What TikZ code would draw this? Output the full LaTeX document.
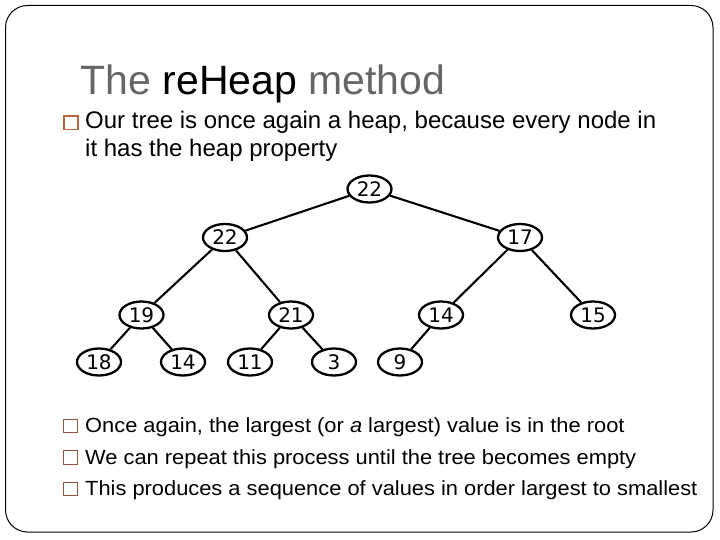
\documentclass[tikz,border=0pt]{standalone}
\usepackage{fontspec}
\setmainfont{Liberation Sans}
\newfontfamily\widefont[FakeStretch=1.066]{Liberation Sans}
\newfontfamily\nodefont{DejaVu Sans}
\usetikzlibrary{shapes.geometric}
\definecolor{titlegray}{RGB}{102,102,102}
\definecolor{bulletA}{RGB}{190,100,60}
\definecolor{bulletB}{RGB}{150,85,60}
\begin{document}
\begin{tikzpicture}[x=1pt,y=-1pt,
  hn/.style={draw, ellipse, line width=2.3pt, minimum width=44pt, minimum height=27pt, inner sep=0pt, font=\nodefont\fontsize{20}{20}\selectfont},
  edge/.style={line width=2.1pt},
  titletext/.style={anchor=base west, inner sep=0pt, font=\fontsize{41}{44}\selectfont},
  bodytext/.style={anchor=base west, inner sep=0pt, font=\fontsize{24}{28}\selectfont},
  smalltext/.style={anchor=base west, inner sep=0pt, font=\widefont\fontsize{20.5}{24}\selectfont},
  bigbullet/.style={draw=bulletA, line width=1.6pt},
  smallbullet/.style={draw=bulletB, line width=1pt}
]
\useasboundingbox (0,0) rectangle (720,540);
\draw[line width=1pt, rounded corners=22pt] (5.5,5.5) rectangle (713,532);

\node[titletext] (title) at (80.5,95) {\textcolor{titlegray}{The} reHeap \textcolor{titlegray}{method}};

\draw[bigbullet] (64,116) rectangle (78,129.5);
\node[bodytext] (l1) at (85,129) {Our tree is once again a heap, because every node in};
\node[bodytext] (l2) at (85,157) {it has the heap property};

\node[hn] (r) at (369.5,189) {22};
\node[hn] (a) at (225,237.5) {22};
\node[hn] (b) at (520,237.5) {17};
\node[hn] (c) at (141.5,315) {19};
\node[hn] (d) at (291,315) {21};
\node[hn] (e) at (441,315) {14};
\node[hn] (f) at (593,315) {15};
\node[hn] (g) at (99,362) {18};
\node[hn] (h) at (183,362) {14};
\node[hn] (i) at (250,362) {11};
\node[hn] (j) at (334,362) {3};
\node[hn] (k) at (400,362) {9};

\draw[edge] (r) -- (a);
\draw[edge] (r) -- (b);
\draw[edge] (a) -- (c);
\draw[edge] (a) -- (d);
\draw[edge] (b) -- (e);
\draw[edge] (b) -- (f);
\draw[edge] (c) -- (g);
\draw[edge] (c) -- (h);
\draw[edge] (d) -- (i);
\draw[edge] (d) -- (j);
\draw[edge] (e) -- (k);

\draw[smallbullet] (63,419) rectangle (77,432.5);
\node[smalltext] (b1) at (85,432.5) {Once again, the largest (or {\itshape a} largest) value is in the root};
\draw[smallbullet] (63,450.5) rectangle (77,464);
\node[smalltext] (b2) at (85,464) {We can repeat this process until the tree becomes empty};
\draw[smallbullet] (63,482) rectangle (77,495.5);
\node[smalltext] (b3) at (85,495.5) {This produces a sequence of values in order largest to smallest};
\end{tikzpicture}
\end{document}
